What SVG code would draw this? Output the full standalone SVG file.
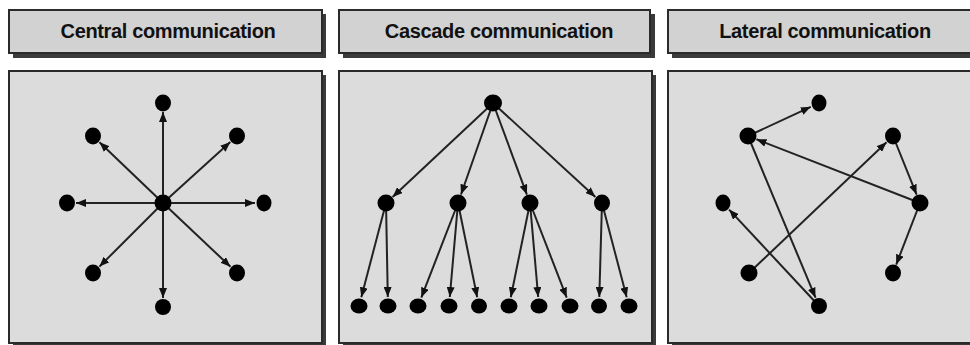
<svg xmlns="http://www.w3.org/2000/svg" width="970" height="345" viewBox="0 0 970 345">
<defs>
<marker id="ah" viewBox="0 0 10 8" refX="10" refY="4" markerWidth="10" markerHeight="8" markerUnits="userSpaceOnUse" orient="auto">
<path d="M0,0 L10,4 L0,8 Z" fill="#111"/>
</marker>
<style>
.shadow{fill:#3a3a3a}
.hdr{fill:#d2d2d2;stroke:#2a2a2a;stroke-width:2}
.panel{fill:#dcdcdc;stroke:#2a2a2a;stroke-width:2}
.title{font-family:"Liberation Sans",Arial,sans-serif;font-weight:bold;font-size:20px;letter-spacing:-0.35px;fill:#111;text-anchor:middle}
.edge line{stroke:#222;stroke-width:2;marker-end:url(#ah)}
.node ellipse{fill:#000}
</style>
</defs>
<rect width="970" height="345" fill="#ffffff"/>

<!-- headers -->
<g id="header-central">
<rect class="shadow" x="13" y="14" width="313" height="44"/>
<rect class="hdr" x="9" y="10" width="313" height="43"/>
<text class="title" x="168" y="38">Central communication</text>
</g>
<g id="header-cascade">
<rect class="shadow" x="343" y="14" width="312" height="44"/>
<rect class="hdr" x="339" y="10" width="311" height="43"/>
<text class="title" x="499" y="38">Cascade communication</text>
</g>
<g id="header-lateral">
<rect class="shadow" x="672" y="14" width="312" height="44"/>
<rect class="hdr" x="668" y="10" width="312" height="43"/>
<text class="title" x="825" y="38">Lateral communication</text>
</g>

<!-- panels -->
<g id="panel-central">
<rect class="shadow" x="13" y="75" width="313" height="275"/>
<rect class="panel" x="9" y="71" width="313" height="272"/>
</g>
<g id="panel-cascade">
<rect class="shadow" x="343" y="75" width="313" height="275"/>
<rect class="panel" x="339" y="71" width="313" height="272"/>
</g>
<g id="panel-lateral">
<rect class="shadow" x="672" y="75" width="313" height="275"/>
<rect class="panel" x="668" y="71" width="313" height="272"/>
</g>

<!-- connectors -->
<g id="connectors" class="edge">
<!-- central -->
<line x1="163" y1="203" x2="163" y2="112"/>
<line x1="163" y1="203" x2="163" y2="298"/>
<line x1="163" y1="203" x2="76" y2="203"/>
<line x1="163" y1="203" x2="255" y2="203"/>
<line x1="163" y1="203" x2="99.5" y2="142.2"/>
<line x1="163" y1="203" x2="230.3" y2="142"/>
<line x1="163" y1="203" x2="99.4" y2="266.6"/>
<line x1="163" y1="203" x2="230.5" y2="266.8"/>
<!-- cascade -->
<line x1="493" y1="103" x2="392.6" y2="196.9"/>
<line x1="493" y1="103" x2="461" y2="194.5"/>
<line x1="493" y1="103" x2="526.9" y2="194.6"/>
<line x1="493" y1="103" x2="595.4" y2="196.9"/>
<line x1="386" y1="203" x2="361.3" y2="297.3"/>
<line x1="386" y1="203" x2="387.8" y2="297"/>
<line x1="458" y1="203" x2="421.3" y2="297.6"/>
<line x1="458" y1="203" x2="449.8" y2="297"/>
<line x1="458" y1="203" x2="477.2" y2="297.2"/>
<line x1="530" y1="203" x2="510.8" y2="297.2"/>
<line x1="530" y1="203" x2="538.2" y2="297"/>
<line x1="530" y1="203" x2="566.7" y2="297.6"/>
<line x1="602" y1="203" x2="599.3" y2="297"/>
<line x1="602" y1="203" x2="626.7" y2="297.3"/>
<!-- lateral -->
<line x1="748" y1="136" x2="810.8" y2="106.8"/>
<line x1="920" y1="203" x2="756.4" y2="139.3"/>
<line x1="748" y1="136" x2="815.5" y2="297.7"/>
<line x1="749" y1="273" x2="886.5" y2="142.2"/>
<line x1="893" y1="136" x2="916.6" y2="194.6"/>
<line x1="920" y1="203" x2="896.2" y2="264.6"/>
<line x1="819" y1="306" x2="729.1" y2="209.6"/>
</g>

<!-- central nodes -->
<g id="c-center" class="node"><ellipse cx="163" cy="203" rx="8.5" ry="8.5"/></g>
<g id="c-top" class="node"><ellipse cx="163" cy="103" rx="8" ry="8.5"/></g>
<g id="c-bottom" class="node"><ellipse cx="163" cy="307" rx="8" ry="8"/></g>
<g id="c-left" class="node"><ellipse cx="67" cy="203" rx="8" ry="8.5"/></g>
<g id="c-right" class="node"><ellipse cx="264" cy="203" rx="7.5" ry="8.5"/></g>
<g id="c-ul" class="node"><ellipse cx="93" cy="136" rx="8" ry="8.5"/></g>
<g id="c-ur" class="node"><ellipse cx="237" cy="136" rx="8" ry="8.5"/></g>
<g id="c-ll" class="node"><ellipse cx="93" cy="273" rx="8" ry="8.5"/></g>
<g id="c-lr" class="node"><ellipse cx="237" cy="273" rx="8" ry="8.5"/></g>

<!-- cascade nodes -->
<g id="k-root" class="node"><ellipse cx="493" cy="103" rx="9" ry="8.5"/></g>
<g id="k-m1" class="node"><ellipse cx="386" cy="203" rx="8.5" ry="8.5"/></g>
<g id="k-m2" class="node"><ellipse cx="458" cy="203" rx="8.5" ry="8.5"/></g>
<g id="k-m3" class="node"><ellipse cx="530" cy="203" rx="8.5" ry="8.5"/></g>
<g id="k-m4" class="node"><ellipse cx="602" cy="203" rx="8" ry="8.5"/></g>
<g id="k-l1" class="node"><ellipse cx="359" cy="306" rx="8.5" ry="7.5"/></g>
<g id="k-l2" class="node"><ellipse cx="388" cy="306" rx="8.5" ry="7.5"/></g>
<g id="k-l3" class="node"><ellipse cx="418" cy="306" rx="8.5" ry="7.5"/></g>
<g id="k-l4" class="node"><ellipse cx="449" cy="306" rx="8.5" ry="7.5"/></g>
<g id="k-l5" class="node"><ellipse cx="479" cy="306" rx="8" ry="7.5"/></g>
<g id="k-l6" class="node"><ellipse cx="509" cy="306" rx="8.5" ry="7.5"/></g>
<g id="k-l7" class="node"><ellipse cx="539" cy="306" rx="8.5" ry="7.5"/></g>
<g id="k-l8" class="node"><ellipse cx="570" cy="306" rx="8.5" ry="7.5"/></g>
<g id="k-l9" class="node"><ellipse cx="599" cy="306" rx="8" ry="7.5"/></g>
<g id="k-l10" class="node"><ellipse cx="629" cy="306" rx="8.5" ry="7.5"/></g>

<!-- lateral nodes -->
<g id="l-a" class="node"><ellipse cx="819" cy="103" rx="7.5" ry="8.5"/></g>
<g id="l-b" class="node"><ellipse cx="748" cy="136" rx="8.5" ry="8.5"/></g>
<g id="l-c" class="node"><ellipse cx="893" cy="136" rx="8" ry="8.5"/></g>
<g id="l-d" class="node"><ellipse cx="723" cy="203" rx="7.5" ry="8.5"/></g>
<g id="l-e" class="node"><ellipse cx="920" cy="203" rx="8.5" ry="8.5"/></g>
<g id="l-f" class="node"><ellipse cx="749" cy="273" rx="8.5" ry="8.5"/></g>
<g id="l-g" class="node"><ellipse cx="893" cy="273" rx="8" ry="8.5"/></g>
<g id="l-h" class="node"><ellipse cx="819" cy="306" rx="8" ry="8"/></g>
</svg>
